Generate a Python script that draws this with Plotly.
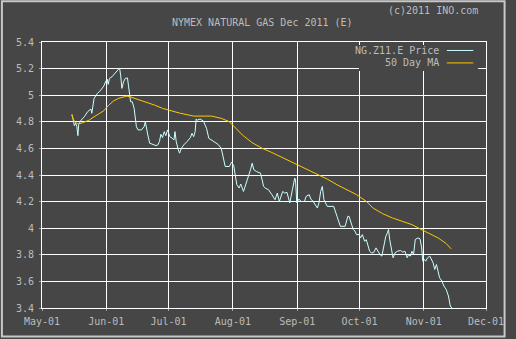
import pandas as pd
import plotly.graph_objects as go

# Day offsets from 2011-05-01 and prices
price_days = [14.4, 14.9, 15.6, 16.2, 16.8, 17.3, 17.7, 18.9, 20.4, 22.0, 23.6, 24.0, 25.1, 26.7, 28.3,
              29.8, 30.6, 31.4, 31.9, 32.5, 33.7, 35.4, 36.6, 37.4, 37.9, 38.5, 39.3, 40.1, 41.2, 42.0,
              42.7, 43.5, 44.4, 45.5, 46.3, 47.9, 49.2, 49.8, 50.2, 51.0, 51.9, 53.4, 55.0, 55.8, 56.6,
              57.3, 58.1, 58.9, 59.7, 60.5, 61.6, 62.8, 63.6, 64.1, 64.7, 65.7, 66.3, 67.2, 68.3, 69.9,
              71.5, 72.3, 73.1, 73.8, 74.3, 74.9, 76.2, 77.8, 79.3, 80.4, 81.7, 83.2, 84.8, 86.4, 87.2,
              88.3, 90.3, 91.4, 92.4, 93.0, 93.9, 95.0, 95.8, 97.1, 98.2, 99.3, 100.5, 101.3, 102.1, 103.4,
              105.3, 106.1, 106.8, 107.6, 109.2, 110.8, 112.3, 113.4, 114.4, 116.0, 117.0, 118.1, 119.4, 120.7,
              121.8, 122.2, 122.8, 123.8, 124.9, 126.5, 127.3, 128.8, 129.6, 130.7, 132.0, 132.7, 133.5, 134.3,
              135.1, 135.9, 137.5, 139.1, 140.6, 142.2, 143.8, 146.1, 147.4, 148.0, 149.2, 150.0, 150.8, 151.6,
              152.9, 153.5, 154.4, 155.5, 156.3, 157.1, 157.9, 158.7, 159.8, 161.0, 161.8, 162.9, 163.8, 165.0,
              165.7, 166.5, 167.0, 167.6, 168.6, 169.2, 170.2, 171.3, 172.8, 173.9, 174.9, 176.0, 176.7, 177.5,
              178.3, 179.1, 179.9, 181.2, 182.2, 183.0, 183.5, 184.3, 184.9, 185.9, 186.9, 187.7, 188.5, 189.3,
              190.1, 190.9, 191.6, 192.8, 193.7, 194.8, 195.9, 196.8, 197.5]
price = [4.851, 4.826, 4.771, 4.789, 4.763, 4.696, 4.781, 4.813, 4.838, 4.876, 4.896, 4.864, 4.976, 5.013, 5.038,
         5.070, 5.100, 5.121, 5.081, 5.126, 5.138, 5.171, 5.196, 5.205, 5.151, 5.051, 5.100, 5.126, 5.130, 5.051,
         4.951, 4.951, 4.901, 4.763, 4.739, 4.739, 4.763, 4.801, 4.763, 4.701, 4.639, 4.631, 4.621, 4.626, 4.651,
         4.706, 4.681, 4.726, 4.696, 4.739, 4.688, 4.676, 4.664, 4.726, 4.651, 4.589, 4.564, 4.601, 4.626, 4.651,
         4.681, 4.714, 4.688, 4.726, 4.821, 4.813, 4.821, 4.806, 4.751, 4.676, 4.664, 4.651, 4.631, 4.601, 4.551,
         4.464, 4.464, 4.497, 4.471, 4.414, 4.327, 4.302, 4.332, 4.276, 4.327, 4.377, 4.439, 4.489, 4.439, 4.426,
         4.414, 4.364, 4.314, 4.302, 4.289, 4.252, 4.214, 4.264, 4.201, 4.276, 4.264, 4.269, 4.190, 4.289,
         4.377, 4.364, 4.190, 4.219, 4.201, 4.201, 4.239, 4.252, 4.219, 4.201, 4.164, 4.152, 4.190, 4.276,
         4.314, 4.214, 4.164, 4.164, 4.164, 4.089, 4.014, 4.014, 4.089, 4.089, 4.019, 3.990, 3.980, 3.952,
         3.952, 3.927, 3.952, 3.902, 3.914, 3.864, 3.827, 3.815, 3.815, 3.852, 3.827, 3.802, 3.790, 3.877,
         3.939, 3.965, 3.990, 3.914, 3.840, 3.778, 3.815, 3.827, 3.832, 3.820, 3.827, 3.778, 3.802, 3.790,
         3.827, 3.802, 3.915, 3.927, 3.920, 3.852, 3.752, 3.765, 3.752, 3.778, 3.790, 3.765, 3.740, 3.690,
         3.727, 3.677, 3.628, 3.602, 3.565, 3.540, 3.490, 3.415, 3.400]

ma_days = [14.4, 14.9, 15.7, 17.3, 18.9, 21.2, 22.8, 25.1, 27.5, 29.8, 32.2, 34.6, 36.9, 39.3, 40.8,
           42.4, 44.8, 47.9, 51.0, 54.2, 58.1, 62.0, 66.7, 73.1, 74.6, 81.7, 86.4, 90.3, 92.7, 96.6,
           101.3, 106.1, 110.8, 115.5, 121.8, 126.5, 132.7, 137.5, 142.2, 146.9, 151.6, 156.3, 159.5, 164.2,
           168.9, 173.6, 178.3, 182.2, 186.2, 190.9, 194.8, 197.2]
ma50 = [4.858, 4.826, 4.801, 4.784, 4.789, 4.801, 4.813, 4.838, 4.864, 4.883, 4.926, 4.958, 4.976, 4.988, 4.993,
        4.988, 4.976, 4.963, 4.946, 4.926, 4.901, 4.883, 4.864, 4.843, 4.843, 4.843, 4.826, 4.801, 4.763, 4.701,
        4.643, 4.601, 4.569, 4.534, 4.489, 4.456, 4.409, 4.369, 4.327, 4.289, 4.252, 4.202, 4.152, 4.109,
        4.077, 4.052, 4.027, 3.995, 3.965, 3.927, 3.885, 3.845]

start = pd.Timestamp("2011-05-01")
price_dates = start + pd.to_timedelta(price_days, unit="D")
ma_dates = start + pd.to_timedelta(ma_days, unit="D")

BG = "#464646"
TXT = "#bcbcbc"
FONT = "DejaVu Sans Mono"

fig = go.Figure()
fig.add_trace(go.Scatter(x=price_dates, y=price, mode="lines", name="NG.Z11.E Price",
                         line=dict(color="#ccffff", width=1), showlegend=False))
fig.add_trace(go.Scatter(x=ma_dates, y=ma50, mode="lines", name="50 Day MA",
                         line=dict(color="#ffc800", width=1), showlegend=False))

W, H = 516, 339
L, R, T, B = 42, 20, 42, 30
pw, ph = W - L - R, H - T - B


def px(x):
    return (x - L) / pw


def py(y):
    return (H - B - y) / ph


fig.update_layout(
    width=W, height=H,
    margin=dict(l=L, r=R, t=T, b=B),
    paper_bgcolor=BG, plot_bgcolor=BG,
    font=dict(family=FONT, size=10, color=TXT),
    xaxis=dict(range=["2011-05-01", "2011-12-01"], tickformat="%b-%d", dtick="M1",
               tick0="2011-05-01", showgrid=True, gridcolor="#ffffff", gridwidth=1,
               showline=True, linecolor="#ffffff", mirror=True, ticks="outside",
               ticklen=2, tickcolor="#a0a0a0", zeroline=False, fixedrange=True,
               ticklabelstandoff=2),
    yaxis=dict(range=[3.4, 5.4], dtick=0.2, tick0=3.4, showgrid=True, gridcolor="#ffffff",
               gridwidth=1, showline=True, linecolor="#ffffff", mirror=True, ticks="outside",
               ticklen=2, tickcolor="#a0a0a0", zeroline=False, fixedrange=True,
               ticklabelstandoff=3),
    showlegend=False,
)

# legend box and samples
fig.add_shape(type="rect", xref="paper", yref="paper", x0=px(366), x1=px(488), y0=py(71), y1=py(45),
              fillcolor=BG, line=dict(width=0), layer="above")
fig.add_shape(type="line", xref="paper", yref="paper", x0=px(456), x1=px(483), y0=py(50.5), y1=py(50.5),
              line=dict(color="#ccffff", width=1), layer="above")
fig.add_shape(type="line", xref="paper", yref="paper", x0=px(456), x1=px(483), y0=py(63), y1=py(63),
              line=dict(color="#ffc800", width=1), layer="above")
fig.add_annotation(text="NG.Z11.E Price", xref="paper", yref="paper", x=px(449.5), y=py(51),
                   xanchor="right", yanchor="middle", showarrow=False)
fig.add_annotation(text="50 Day MA", xref="paper", yref="paper", x=px(449.5), y=py(63),
                   xanchor="right", yanchor="middle", showarrow=False)

# titles
fig.add_annotation(text="NYMEX NATURAL GAS Dec 2011 (E)", xref="paper", yref="paper", x=px(267),
                   y=py(22.5), xanchor="center", yanchor="middle", showarrow=False)
fig.add_annotation(text="(c)2011 INO.com", xref="paper", yref="paper", x=px(489.5),
                   y=py(10.5), xanchor="right", yanchor="middle", showarrow=False)

# outer frame
fig.add_shape(type="rect", xref="paper", yref="paper", x0=px(1), x1=px(515), y0=py(337.5), y1=py(1),
              line=dict(color="#c8c8c8", width=2), layer="above")

fig.write_html("out.html")
